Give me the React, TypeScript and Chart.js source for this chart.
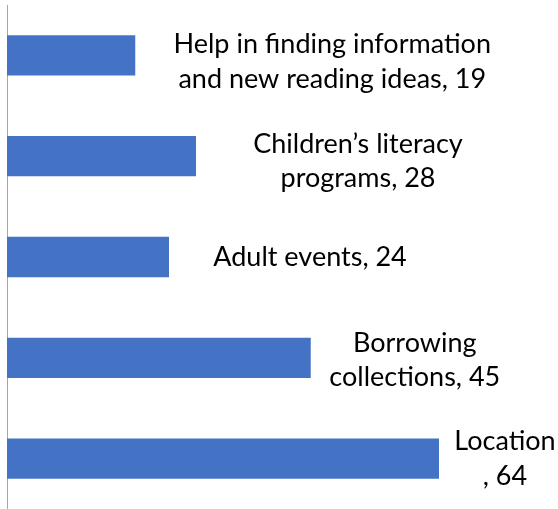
import React, { useEffect, useRef } from "react";
import { Chart, registerables } from "chart.js";

Chart.register(...registerables);

const categories = [
  "Help in finding information\nand new reading ideas",
  "Children\u2019s literacy\nprograms",
  "Adult events",
  "Borrowing\ncollections",
  "Location\n",
];
const values = [19, 28, 24, 45, 64];

// label placement relative to the end of each bar (block centre)
const labelDx = [197, 162, 141, 104, 66];
const labelDy = [6, 5, 0, 2, 0];

const BAR_COLOR = "#4472C4";
const AXIS_COLOR = "#A6A6A6";
const FONT = "27px Lato";
const LINE_H = 34.5;

const labelPlugin = {
  id: "barLabels",
  afterDatasetsDraw(chart: any) {
    const ctx = chart.ctx;
    const meta = chart.getDatasetMeta(0);
    ctx.save();
    ctx.font = FONT;
    ctx.fillStyle = "#000000";
    ctx.textAlign = "center";
    ctx.textBaseline = "alphabetic";
    meta.data.forEach((bar: any, i: number) => {
      const text = `${categories[i]}, ${values[i]}`;
      const lines = text.split("\n");
      const cx = bar.x + labelDx[i];
      const cy = bar.y + labelDy[i];
      const n = lines.length;
      lines.forEach((ln: string, k: number) => {
        const yCenter = cy + (k - (n - 1) / 2) * LINE_H;
        ctx.fillText(ln, cx, yCenter + 9);
      });
    });
    ctx.restore();
  },
};

export default function App() {
  const ref = useRef<HTMLCanvasElement | null>(null);
  useEffect(() => {
    document.body.style.margin = "0";
    const canvas = ref.current;
    if (!canvas) return;
    const chart = new Chart(canvas, {
      type: "bar",
      data: {
        labels: categories,
        datasets: [
          {
            data: values,
            backgroundColor: BAR_COLOR,
            borderWidth: 0,
            barPercentage: 0.4,
            categoryPercentage: 1,
          },
        ],
      },
      options: {
        indexAxis: "y",
        responsive: false,
        animation: false,
        devicePixelRatio: 1,
        layout: { padding: { left: 7, right: 11, top: 5, bottom: -3 } },
        plugins: {
          legend: { display: false },
          tooltip: { enabled: false },
        },
        scales: {
          x: { type: "linear", min: 0, max: 80, display: false },
          y: {
            type: "category",
            ticks: { display: false },
            grid: { display: false, drawTicks: false },
            border: { display: true, color: AXIS_COLOR, width: 1 },
          },
        },
      },
      plugins: [labelPlugin],
    } as any);
    return () => chart.destroy();
  }, []);
  return (
    <div style={{ width: 558, height: 509, background: "#fff" }}>
      <canvas ref={ref} width={558} height={509} />
    </div>
  );
}
